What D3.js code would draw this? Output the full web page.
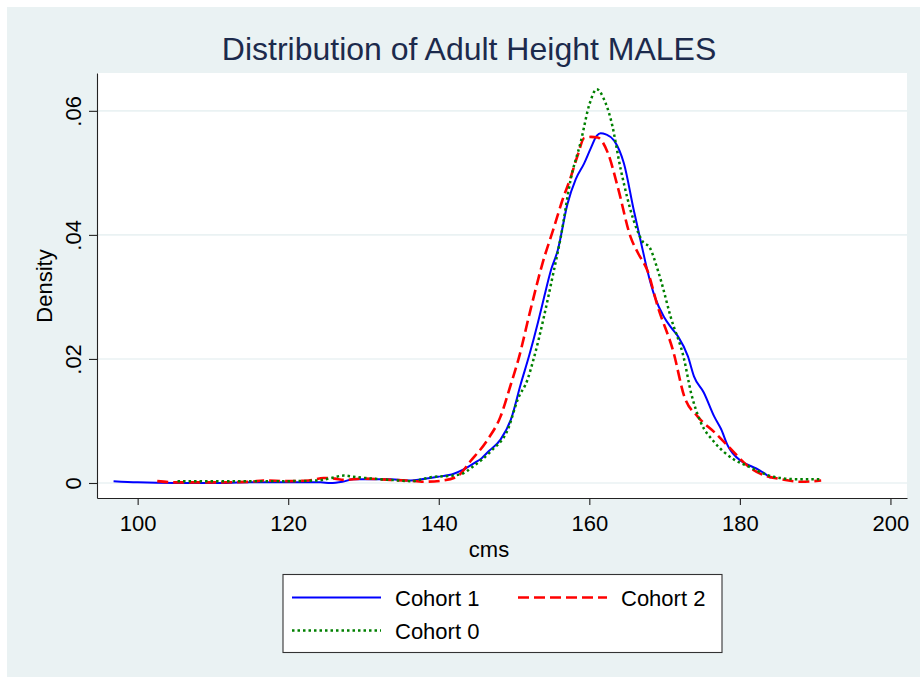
<!DOCTYPE html>
<html>
<head>
<meta charset="utf-8">
<script src="https://cdnjs.cloudflare.com/ajax/libs/d3/7.8.5/d3.min.js"></script>
<style>
  body { margin: 0; background: #fff; }
  svg text { font-family: "Liberation Sans", Arial, sans-serif; }
</style>
</head>
<body>
<div id="chart"></div>
<script>
// Kernel density estimates (cms, density)
const cohort1X = [96.8, 100, 105, 110, 115, 120, 124.3, 125.6, 127.2, 128.7, 133.6, 136.3, 137.7, 139.9,
  142, 143.3, 144.7, 145.7, 146.7, 148.2, 149.6, 150.9, 152, 153.2, 154, 154.9, 155.8, 157.1, 158.2,
  159.3, 160.2, 161, 161.5, 162.2, 163.3, 164.6, 165.9, 167.1, 167.7, 168.7, 169.9, 170.9, 171.8,
  173.1, 173.9, 175.2, 176.6, 177.5, 178.4, 180.2, 181.5, 182.4, 184.1];
const cohort1Y = [0.0003, 0.0001, 0, 0, 0.0001, 0.0001, 0.0001, 0, 0.0002, 0.0006, 0.0006, 0.0004, 0.0006, 0.001,
  0.0015, 0.0022, 0.0032, 0.004, 0.0052, 0.007, 0.0103, 0.016, 0.0205, 0.026, 0.03, 0.0343, 0.0375, 0.045, 0.049,
  0.0515, 0.054, 0.056, 0.0564, 0.0562, 0.0552, 0.0515, 0.044, 0.0375, 0.0343, 0.03, 0.0268, 0.025, 0.0236,
  0.0204, 0.0172, 0.0146, 0.0107, 0.0087, 0.006, 0.0035, 0.0027, 0.0022, 0.0008];

const cohort2X = [102.6, 105, 110, 115, 116.7, 120, 122.7, 124.7, 126.2, 127.4, 130, 133.6, 135.7, 138,
  140.6, 142.5, 144.2, 146.5, 148.2, 149.6, 150.6, 152.2, 153.8, 155.3, 156.4, 157.5, 158.5, 159.3, 160.2, 161.1,
  162.5, 163.8, 165.5, 166.5, 167.7, 169.1, 171.2, 172.6, 174.4, 176.6, 178.4, 181.2, 182.7, 185.5, 188.1, 190.8];
const cohort2Y = [0.0003, 0.0001, 0.0001, 0.0002, 0.0004, 0.0003, 0.0004, 0.0008, 0.0007, 0.0005, 0.0007, 0.0005, 0.0004, 0.0002,
  0.0004, 0.0011, 0.0035, 0.007, 0.0107, 0.0160, 0.02, 0.028, 0.0355, 0.0412, 0.0455, 0.0492, 0.053, 0.0556, 0.0558, 0.0557,
  0.0531, 0.0476, 0.0396, 0.037, 0.0343, 0.0284, 0.021, 0.014, 0.0107, 0.0082, 0.006, 0.0026, 0.0015, 0.0006, 0.0002, 0.0004];

const cohort0X = [105.3, 110, 115, 120, 123.9, 125.7, 127.4, 128.7, 131.2, 133.6, 136.3, 139.3, 140.9, 142.9,
  144.6, 146.9, 149.2, 150.5, 151.8, 152.6, 155.3, 156.2, 157.5, 158.9, 160, 161, 161.9, 162.9, 164.2,
  165.9, 167.1, 168, 169.1, 169.5, 170.8, 172.6, 173.5, 174.8, 176.6, 179.2, 181.1, 184.5, 187.7, 190.8];
const cohort0Y = [0.0003, 0.0003, 0.0003, 0.0003, 0.0004, 0.0008, 0.0012, 0.001, 0.0007, 0.0005, 0.0003, 0.001, 0.0011, 0.0014,
  0.0027, 0.0051, 0.0087, 0.0135, 0.0167, 0.02, 0.0343, 0.0396, 0.0488, 0.0552, 0.061, 0.0635, 0.062, 0.0584, 0.0504,
  0.0423, 0.0389, 0.038, 0.0343, 0.0327, 0.0268, 0.0199, 0.0146, 0.0098, 0.0066, 0.0038, 0.0027, 0.001, 0.0006, 0.0006];

const xTicks = [100, 120, 140, 160, 180, 200];
const yTicks = [0, 0.02, 0.04, 0.06];
const yTickLabels = ["0", ".02", ".04", ".06"];

const series = [
  { name: "Cohort 1", xs: cohort1X, ys: cohort1Y, color: "#0000ff", dash: null, width: 2 },
  { name: "Cohort 2", xs: cohort2X, ys: cohort2Y, color: "#ff0000", dash: "11,5", width: 2.6 },
  { name: "Cohort 0", xs: cohort0X, ys: cohort0Y, color: "#008000", dash: "2.5,3", width: 2.5 }
];

const width = 920, height = 677;
const plot = { left: 97, top: 73, right: 907, bottom: 498 };

const svg = d3.select("#chart").append("svg")
    .attr("width", width)
    .attr("height", height);

// graph region background
svg.append("rect")
    .attr("x", 7).attr("y", 7)
    .attr("width", width - 7).attr("height", height - 7)
    .attr("fill", "#eaf2f3");

svg.append("rect")
    .attr("x", plot.left).attr("y", plot.top)
    .attr("width", plot.right - plot.left).attr("height", plot.bottom - plot.top)
    .attr("fill", "#fff");

const x = d3.scaleLinear().domain([94.6, 202.2]).range([plot.left, plot.right]);
const y = d3.scaleLinear().domain([-0.00242, 0.0661]).range([plot.bottom, plot.top]);

// gridlines
svg.append("g")
    .selectAll("line")
    .data(yTicks)
    .join("line")
    .attr("x1", plot.left + 1).attr("x2", plot.right)
    .attr("y1", d => y(d)).attr("y2", d => y(d))
    .attr("stroke", "#eaf2f3")
    .attr("stroke-width", 1.6);

// axes
const xAxis = svg.append("g")
    .attr("transform", `translate(0,${plot.bottom})`)
    .call(d3.axisBottom(x).tickValues(xTicks).tickSize(7).tickSizeOuter(0).tickPadding(10));

const yAxis = svg.append("g")
    .attr("transform", `translate(${plot.left},0)`)
    .call(d3.axisLeft(y).tickValues(yTicks).tickSize(8).tickSizeOuter(0)
      .tickFormat((d, i) => yTickLabels[i]));

[xAxis, yAxis].forEach(a => {
  a.select(".domain").attr("stroke", "#222").attr("stroke-width", 1.1);
  a.selectAll(".tick line").attr("stroke", "#222").attr("stroke-width", 1.1);
  a.selectAll("text").attr("font-size", 22).attr("fill", "#000")
      .attr("font-family", "'Liberation Sans', Arial, sans-serif");
});

// y tick labels are rotated in Stata style
yAxis.selectAll(".tick text")
    .attr("x", null).attr("dy", null)
    .attr("text-anchor", "middle")
    .attr("transform", "translate(-16,0) rotate(-90)");

// density curves
const line = d3.line()
    .x(d => x(d[0]))
    .y(d => y(d[1]))
    .curve(d3.curveMonotoneX);

svg.append("g")
    .selectAll("path")
    .data(series)
    .join("path")
    .attr("d", s => line(s.xs.map((v, i) => [v, s.ys[i]])))
    .attr("fill", "none")
    .attr("stroke", s => s.color)
    .attr("stroke-width", s => s.width)
    .attr("stroke-dasharray", s => s.dash);

// titles
svg.append("text")
    .attr("x", 469).attr("y", 60)
    .attr("text-anchor", "middle")
    .attr("font-size", 32)
    .attr("fill", "#1c2a4c")
    .text("Distribution of Adult Height MALES");

svg.append("text")
    .attr("x", 489).attr("y", 557)
    .attr("text-anchor", "middle")
    .attr("font-size", 22)
    .text("cms");

svg.append("text")
    .attr("transform", "translate(52,286) rotate(-90)")
    .attr("text-anchor", "middle")
    .attr("font-size", 22)
    .text("Density");

// legend
const legend = svg.append("g");
legend.append("rect")
    .attr("x", 283).attr("y", 574.5)
    .attr("width", 439).attr("height", 78)
    .attr("fill", "#fff")
    .attr("stroke", "#333")
    .attr("stroke-width", 1.1);

const legendPos = [[292, 597.5], [518, 597.5], [292, 630.5]];
series.forEach((s, i) => {
  const [lx, ly] = legendPos[i];
  legend.append("line")
      .attr("x1", lx).attr("x2", lx + 89)
      .attr("y1", ly).attr("y2", ly)
      .attr("stroke", s.color)
      .attr("stroke-width", s.width)
      .attr("stroke-dasharray", s.dash);
  legend.append("text")
      .attr("x", lx + 103).attr("y", ly + 8)
      .attr("font-size", 22)
      .text(s.name);
});
</script>
</body>
</html>
